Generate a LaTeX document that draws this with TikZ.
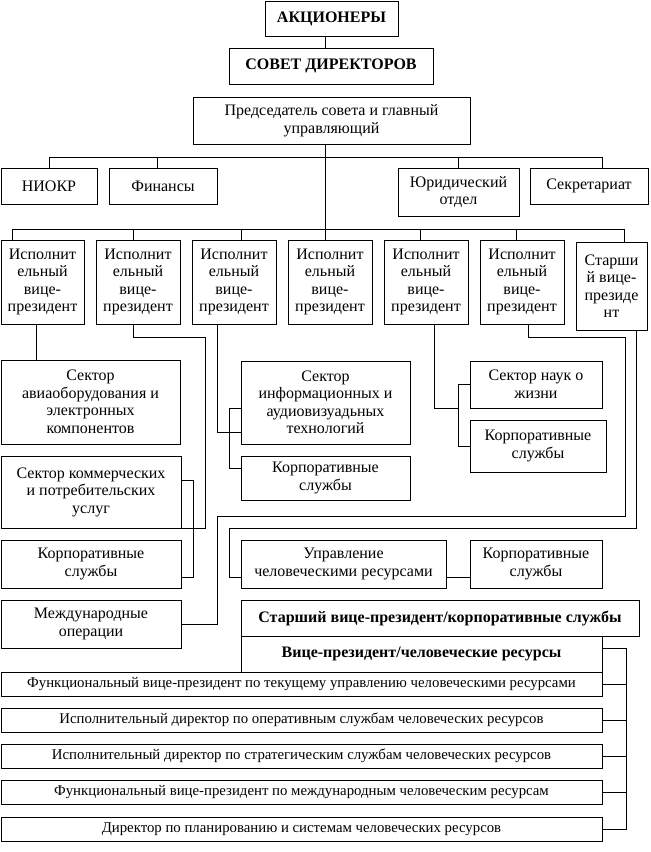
\documentclass[tikz,border=0pt]{standalone}
\usepackage{fontspec}
\setmainfont{Liberation Serif}
\begin{document}
\begin{tikzpicture}[x=1pt,y=-1pt,line width=1pt,
  box/.style={draw,inner sep=0pt,outer sep=0pt,anchor=north west,align=center,
    font=\fontsize{16}{17.5}\selectfont},
  bbox/.style={box,font=\fontsize{16}{18}\selectfont\bfseries},
  lbox/.style={box,font=\fontsize{14.8}{16}\selectfont},
  wire/.style={draw,line width=1pt}]
\useasboundingbox (0,0) rectangle (651,852);
% top
\node[bbox,minimum width=133,minimum height=35] (akc) at (265,1) {АКЦИОНЕРЫ};
\node[bbox,minimum width=204,minimum height=36] (sovet) at (229,48) {СОВЕТ ДИРЕКТОРОВ};
\node[box,minimum width=277,minimum height=47] (pred) at (193,97) {Председатель совета и главный\\управляющий};
% staff
\node[box,minimum width=96,minimum height=36] (niokr) at (1,168) {НИОКР};
\node[box,minimum width=108,minimum height=36] (fin) at (109,168) {Финансы};
\node[box,minimum width=121,minimum height=48] (jur) at (398,168) {Юридический\\отдел};
\node[box,minimum width=118,minimum height=36] (sekr) at (530,168) {Секретариат};
% VP row
\node[box,minimum width=83,minimum height=84] (vp1) at (1,240) {Исполнит\\ельный\\вице-\\президент};
\node[box,minimum width=84,minimum height=84] (vp2) at (96,240) {Исполнит\\ельный\\вице-\\президент};
\node[box,minimum width=84,minimum height=84] (vp3) at (192,240) {Исполнит\\ельный\\вице-\\президент};
\node[box,minimum width=84,minimum height=84] (vp4) at (288,240) {Исполнит\\ельный\\вице-\\президент};
\node[box,minimum width=84,minimum height=84] (vp5) at (384,240) {Исполнит\\ельный\\вице-\\президент};
\node[box,minimum width=84,minimum height=84] (vp6) at (480,240) {Исполнит\\ельный\\вице-\\президент};
\node[box,minimum width=71,minimum height=88] (svp) at (576,242) {Старши\\й вице-\\президе\\нт};
% sectors
\node[box,minimum width=179,minimum height=84] (avia) at (1,360) {Сектор\\авиаоборудования и\\электронных\\компонентов};
\node[box,minimum width=180,minimum height=72] (kom) at (1,456) {Сектор коммерческих\\и потребительских\\услуг};
\node[box,minimum width=180,minimum height=48] (korp1) at (1,540) {Корпоративные\\службы};
\node[box,minimum width=180,minimum height=48] (mezh) at (1,600) {Международные\\операции};
\node[box,minimum width=169,minimum height=83] (info) at (241,361) {Сектор\\информационных и\\аудиовизуадьных\\технологий};
\node[box,minimum width=169,minimum height=44] (korp2) at (241,456) {Корпоративные\\службы};
\node[box,minimum width=132,minimum height=47] (nauk) at (470,361) {Сектор наук о\\жизни};
\node[box,minimum width=136,minimum height=52] (korp3) at (470,420) {Корпоративные\\службы};
\node[box,minimum width=205,minimum height=48] (upr) at (241,540) {Управление\\человеческими ресурсами};
\node[box,minimum width=132,minimum height=48] (korp4) at (470,540) {Корпоративные\\службы};
% HR
\node[bbox,minimum width=398,minimum height=36] (svpc) at (241,600) {Старший вице-президент/корпоративные службы};
\node[bbox,minimum width=361,minimum height=36] (vphr) at (241,636) {Вице-президент/человеческие ресурсы};
\node[lbox,minimum width=601,minimum height=24] (l1) at (1,672) {Функциональный вице-президент по текущему управлению человеческими ресурсами};
\node[lbox,minimum width=601,minimum height=24] (l2) at (1,708) {Исполнительный директор по оперативным службам человеческих ресурсов};
\node[lbox,minimum width=601,minimum height=24] (l3) at (1,744) {Исполнительный директор по стратегическим службам человеческих ресурсов};
\node[lbox,minimum width=601,minimum height=24] (l4) at (1,780) {Функциональный вице-президент по международным человеческим ресурсам};
\node[lbox,minimum width=601,minimum height=24] (l5) at (1,817) {Директор по планированию и системам человеческих ресурсов};
% connectors top
\coordinate (tx) at (325,0);
\draw[wire] (akc.south -| tx) -- (sovet.north -| tx);
\coordinate (s1) at ([xshift=48pt]niokr.north west);
\coordinate (s2) at ([xshift=48pt]fin.north west);
\coordinate (s3) at ([xshift=60pt]jur.north west);
\coordinate (s4) at ([xshift=72pt]sekr.north west);
\draw[wire] (s1) -- ++(0,-11) -| (s4);
\draw[wire] (s2) -- ++(0,-11);
\draw[wire] (s3) -- ++(0,-11);
\coordinate (v1) at ([xshift=11pt]vp1.north west);
\coordinate (v2) at ([xshift=37pt]vp2.north west);
\coordinate (v3) at ([xshift=49pt]vp3.north west);
\coordinate (v4) at ([xshift=37pt]vp4.north west);
\coordinate (v5) at ([xshift=36pt]vp5.north west);
\coordinate (v6) at ([xshift=36pt]vp6.north west);
\coordinate (v7) at ([xshift=48pt]svp.north west);
\draw[wire] (tx |- pred.south) -- (v4);
\draw[wire] (v1) -- ++(0,-11) -| (v7);
\foreach \v in {v2,v3,v5,v6} \draw[wire] (\v) -- ++(0,-11);
% VP1
\coordinate (b1) at ([xshift=35pt]vp1.south west);
\draw[wire] (b1) -- (b1 |- avia.north);
% VP2
\coordinate (b2) at ([xshift=37pt]vp2.south west);
\draw[wire] (b2) -- ++(0,13) -- ++(72,0) |- (kom.south east);
\coordinate (k1) at ([yshift=-24pt]kom.north east);
\coordinate (k2) at ([yshift=11pt]korp1.south east);
\draw[wire] (k1) -- ++(12,0) |- (k2);
% VP3
\coordinate (b3) at ([xshift=25pt]vp3.south west);
\coordinate (i1) at ([yshift=12pt]info.south west);
\draw[wire] (b3) |- (i1);
\coordinate (i2) at ([yshift=-47pt]info.north west);
\coordinate (i3) at ([yshift=-12pt]korp2.north west);
\draw[wire] (i2) -- ++(-12,0) |- (i3);
% VP5
\coordinate (b5) at ([xshift=50pt]vp5.south west);
\coordinate (n1) at ([xshift=-12pt]nauk.south west);
\draw[wire] (b5) |- (n1);
\draw[wire] (nauk.west) -- ++(-12,0) |- (korp3.west);
% VP6
\coordinate (b6) at ([xshift=48pt]vp6.south west);
\draw[wire] (b6) -- ++(0,13) -- ++(97,0) -- ++(0,179) -- ++(-408,0) |- (mezh.east);
% SVP
\coordinate (b7) at ([xshift=60pt]svp.south west);
\coordinate (u1) at ([yshift=11pt]upr.south west);
\draw[wire] (b7) -- ++(0,198) -- ++(-407,0) |- (u1);
\draw[wire] ([yshift=11pt]upr.south east) -- ([yshift=11pt]korp4.south west);
% HR bracket
\coordinate (h0) at ([yshift=-12pt]vphr.north east);
\draw[wire] (h0) -- ++(24,0) |- (l5.east);
\foreach \l in {l1,l2,l3,l4} \draw[wire] (\l.east) -- ++(24,0);
\end{tikzpicture}
\end{document}
